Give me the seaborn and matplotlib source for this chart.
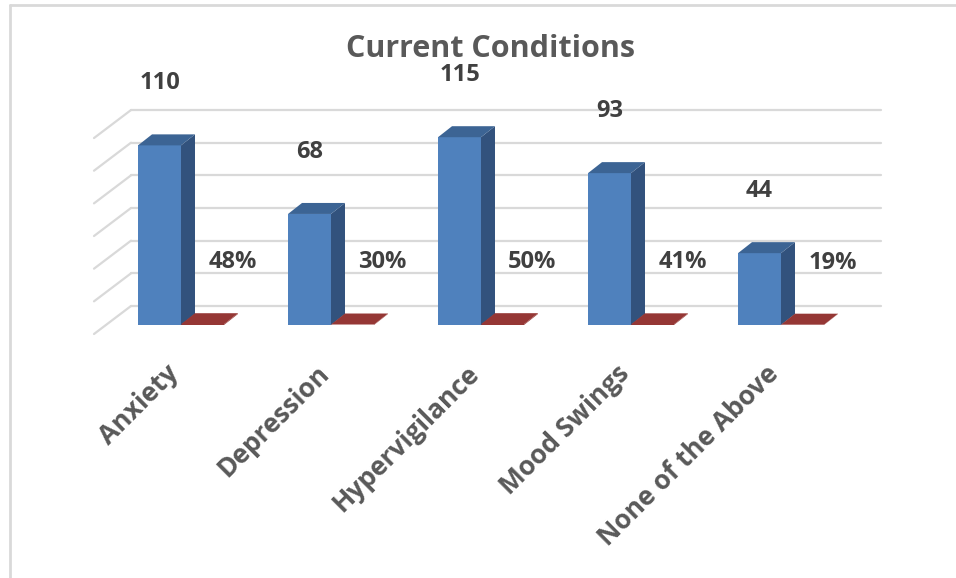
import pandas as pd
import seaborn as sns
import matplotlib.pyplot as plt
import matplotlib.transforms as mtransforms
from matplotlib.patches import Polygon
from matplotlib.lines import Line2D

conditions = ["Anxiety", "Depression", "Hypervigilance", "Mood Swings", "None of the Above"]
counts = [110, 68, 115, 93, 44]
percents = [0.48, 0.30, 0.50, 0.41, 0.19]
grid_values = [0, 20, 40, 60, 80, 100, 120]

blue = "#4f81bd"
blue_side = "#32527d"
blue_top = "#3c6494"
red = "#953735"
text_dark = "#404040"
text_grey = "#595959"
grid_col = "#d9d9d9"

df = pd.DataFrame({
    "condition": conditions * 2,
    "series": ["Count"] * len(conditions) + ["Percent"] * len(conditions),
    "value": counts + percents,
})

sns.set_theme(style="white")
plt.rcParams["font.family"] = ["Open Sans", "DejaVu Sans"]

W, H = 956, 578
fig = plt.figure(figsize=(W / 100, H / 100), dpi=100)

# pixel geometry of the front plane of the bars
px_x = 150.0      # px per category
px_y = 1.633      # px per unit
y_floor = 325
x_left = 91
ymax = 140
ax = fig.add_axes([x_left / W, (H - y_floor) / H, 780 / W, ymax * px_y / H])

sns.barplot(data=df, x="condition", y="value", hue="series", order=conditions,
            palette=[blue, red], width=0.573, saturation=1, legend=False,
            linewidth=0, ax=ax)
ax.set_xlim(-0.6, 4.6)
ax.set_ylim(0, ymax)
for s in ax.spines.values():
    s.set_visible(False)
ax.set_yticks([])
ax.set_xlabel("")
ax.set_ylabel("")
ax.set_xticks(range(len(conditions)), conditions, rotation=45, ha="right", va="center",
              rotation_mode="anchor", fontsize=19, fontweight="bold", color=text_grey)
ax.tick_params(axis="x", length=0, pad=32)
shift = mtransforms.ScaledTranslation(-0.06, 0, fig.dpi_scale_trans)
for lbl in ax.get_xticklabels():
    lbl.set_transform(lbl.get_transform() + shift)

# 3d walls: back wall + left wall
bx, by = 25 / px_x, 19 / px_y
fx, fy = -12 / px_x, -9 / px_y
for v in grid_values:
    ax.plot([-0.5 + bx, 4.5 + bx], [v + by, v + by], color=grid_col, lw=1.6,
            zorder=0.5, clip_on=False)
    ax.plot([-0.5 + bx, -0.5 + fx], [v + by, v + fy], color=grid_col, lw=1.6,
            zorder=0.5, clip_on=False)

# bar depth
DX, DY = 14 / px_x, 11 / px_y
count_bars, pct_bars = ax.containers[0], ax.containers[1]
for bars, side_c, top_c in [(count_bars, blue_side, blue_top), (pct_bars, red, red)]:
    for p in bars:
        x0, w, h = p.get_x(), p.get_width(), p.get_height()
        side = [(x0 + w, 0), (x0 + w, h), (x0 + w + DX, h + DY), (x0 + w + DX, DY)]
        top = [(x0, h), (x0 + w, h), (x0 + w + DX, h + DY), (x0 + DX, h + DY)]
        ax.add_patch(Polygon(side, closed=True, color=side_c, lw=0, zorder=1, clip_on=False))
        ax.add_patch(Polygon(top, closed=True, color=top_c, lw=0, zorder=1, clip_on=False))

# data labels
for p, v in zip(count_bars, counts):
    ax.text(p.get_x() + p.get_width() / 2, v + 38, f"{v}", ha="center", va="center",
            fontsize=17, fontweight="bold", color=text_dark)
for p, v in zip(pct_bars, percents):
    ax.text(p.get_x() + p.get_width() / 2 + 0.2, v + 38, f"{v:.0%}", ha="center",
            va="center", fontsize=17, fontweight="bold", color=text_dark)

fig.text(490 / W, 1 - 49 / H, "Current Conditions", ha="center", va="center",
         fontsize=22, fontweight="bold", color=text_grey)

# chart frame (only top and left edges show)
fig.add_artist(Line2D([10 / W, 1], [1 - 5 / H, 1 - 5 / H], color=grid_col, lw=2))
fig.add_artist(Line2D([10 / W, 10 / W], [0, 1 - 5 / H], color=grid_col, lw=2))

fig.savefig("out.png", dpi=100)
